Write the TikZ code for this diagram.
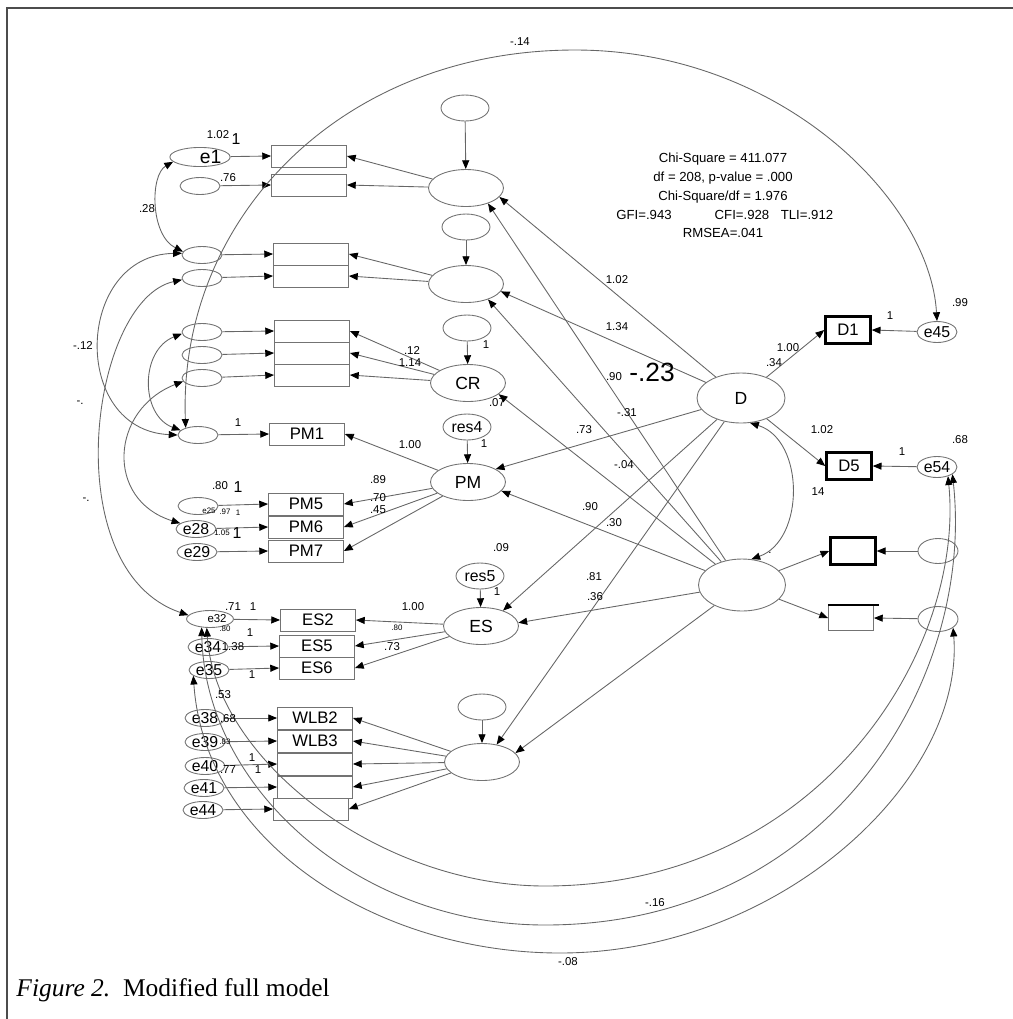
\documentclass[tikz,border=0pt]{standalone}
\usepackage{fontspec}
\setmainfont{Liberation Sans}
\newfontfamily\capfont{Liberation Serif}
\usetikzlibrary{shapes.geometric,arrows.meta}

\begin{document}
\begin{tikzpicture}[x=0.02cm,y=-0.02cm,line width=0.5pt,
    err/.style={ellipse,draw=black!55,minimum width=0.8cm,minimum height=0.34cm,inner sep=0pt,font=\fontsize{9}{9}\selectfont},
    latent/.style={ellipse,draw=black!55,minimum width=1.5cm,minimum height=0.74cm,inner sep=0pt,font=\fontsize{10}{10}\selectfont},
    resid/.style={ellipse,draw=black!55,minimum width=0.96cm,minimum height=0.52cm,inner sep=0pt,font=\fontsize{9}{9}\selectfont},
    obs/.style={rectangle,draw=black!55,minimum width=1.5cm,minimum height=0.44cm,inner sep=0pt,font=\fontsize{9.5}{9.5}\selectfont},
    dbox/.style={rectangle,draw=black,line width=1.4pt,minimum width=0.9cm,minimum height=0.54cm,inner sep=0pt,font=\fontsize{9.5}{9.5}\selectfont},
    arr/.style={draw=black!60,-{Triangle[length=5pt,width=4pt,color=black]}},
    cov/.style={draw=black!60,{Triangle[length=5pt,width=4pt,color=black]}-{Triangle[length=5pt,width=4pt,color=black]}},
    numlbl/.style={inner sep=0pt,font=\fontsize{6.5}{7}\selectfont},
    numbig/.style={inner sep=0pt,font=\fontsize{9}{9}\selectfont},
    numtiny/.style={inner sep=0pt,font=\fontsize{4.5}{5}\selectfont},
    fitlbl/.style={inner sep=0pt,font=\fontsize{7.5}{8}\selectfont}]
    \useasboundingbox (0,0) rectangle (1013,1019);
    \draw[black!70,line width=0.8pt] (1013,8) -- (7,8) -- (7,1019);

    % first factor
    \node[resid] (r1) at (465,108) {};
    \node[latent] (F1) at (466,188) {};
    \node[obs] (x11) at (309,156) {};
    \node[obs] (x12) at (309,185) {};
    \node[err,font=\fontsize{11}{11}\selectfont] (e1) at (200,157) {\hspace{12pt}e1};
    \node[err] (e2) at (200,186) {};

    % second factor
    \node[resid] (r2) at (466,227) {};
    \node[latent] (F2) at (466,284) {};
    \node[obs] (x21) at (311,254) {};
    \node[obs] (x22) at (311,276) {};
    \node[err] (e3) at (202,255) {};
    \node[err] (e4) at (202,278) {};

    % CR
    \node[resid] (r3) at (467,328) {};
    \node[latent] (CR) at (468,383) {CR};
    \node[obs] (x31) at (312,331) {};
    \node[obs] (x32) at (312,353) {};
    \node[obs] (x33) at (312,375) {};
    \node[err] (e5) at (202,332) {};
    \node[err] (e6) at (202,355) {};
    \node[err] (e7) at (202,378) {};

    % PM
    \node[resid] (r4) at (467,427) {res4};
    \node[latent] (PM) at (468,482) {PM};
    \node[obs] (PM1) at (307,434) {PM1};
    \node[obs] (PM5) at (306,504) {PM5};
    \node[obs] (PM6) at (306,527) {PM6};
    \node[obs] (PM7) at (306,551) {PM7};
    \node[err] (e8) at (198,435) {};
    \node[err] (e25) at (198,506) {};
    \node[err] (e28) at (196,529) {e28};
    \node[err] (e29) at (197,552) {e29};

    % ES
    \node[resid] (r5) at (480,576) {res5};
    \node[latent] (ES) at (481,626) {ES};
    \node[obs] (ES2) at (318,620) {ES2};
    \node[obs] (ES5) at (317,646) {ES5};
    \node[obs] (ES6) at (317,668) {ES6};
    \node[err,font=\fontsize{6.5}{7}\selectfont] (e32) at (210,619) {\hspace{8pt}e32};
    \node[err] (e34) at (208,647) {e34};
    \node[err] (e35) at (209,670) {e35};

    % WLB
    \node[resid] (r6) at (482,707) {};
    \node[latent] (WLB) at (482,762) {};
    \node[obs] (WLB2) at (315,718) {WLB2};
    \node[obs] (WLB3) at (315,741) {WLB3};
    \node[obs] (w3) at (315,764) {};
    \node[obs] (w4) at (315,787) {};
    \node[obs] (w5) at (311,809) {};
    \node[err] (e38) at (205,718) {e38};
    \node[err] (e39) at (205,742) {e39};
    \node[err] (e40) at (205,766) {e40};
    \node[err] (e41) at (204,788) {e41};
    \node[err] (e44) at (203,810) {e44};

    % right side
    \node[ellipse,draw=black!55,minimum width=1.76cm,minimum height=1cm,font=\fontsize{10}{10}\selectfont] (D) at (741,398) {D};
    \node[ellipse,draw=black!55,minimum width=1.74cm,minimum height=1.04cm] (F7) at (742,585) {};
    \node[dbox] (D1) at (848,330) {D1};
    \node[dbox] (D5) at (849,466) {D5};
    \node[dbox] (y7a) at (853,551) {};
    \node[obs,minimum width=0.9cm,minimum height=0.5cm] (y7b) at (851,618) {};
    \draw[line width=1.4pt] (y7b.north west) -- ([xshift=3pt]y7b.north east);
    \node[err,minimum height=0.42cm] (e45) at (937,332) {e45};
    \node[err,minimum height=0.42cm] (e54) at (937,467) {e54};
    \node[err,minimum height=0.5cm] (e7a) at (938,551) {};
    \node[err,minimum height=0.5cm] (e7b) at (938,619) {};

    % fit indices
    \node[fitlbl] (fit1) at (723,159) {Chi-Square = 411.077};
    \node[fitlbl] (fit2) at (723,178) {df = 208, p-value = .000};
    \node[fitlbl] (fit3) at (723,197) {Chi-Square/df = 1.976};
    \node[fitlbl] (fit4) at (644,215) {GFI=.943};
    \node[fitlbl] (fit5) at (742,215) {CFI=.928};
    \node[fitlbl] (fit6) at (807,215) {TLI=.912};
    \node[fitlbl] (fit7) at (723,233) {RMSEA=.041};

    % residuals to factors
    \draw[arr] (r1) -- (F1);
    \draw[arr] (r2) -- (F2);
    \draw[arr] (r3) -- (CR);
    \draw[arr] (r4) -- (PM);
    \draw[arr] (r5) -- (ES);
    \draw[arr] (r6) -- (WLB);

    % loadings
    \draw[arr] (F1) -- (x11.east);
    \draw[arr] (F1) -- (x12.east);
    \draw[arr] (F2) -- (x21.east);
    \draw[arr] (F2) -- (x22.east);
    \draw[arr] (CR) -- (x31.east);
    \draw[arr] (CR) -- (x32.east);
    \draw[arr] (CR) -- (x33.east);
    \draw[arr] (PM) -- (PM1.east);
    \draw[arr] (PM) -- (PM5.east);
    \draw[arr] (PM) -- (PM6.east);
    \draw[arr] (PM) -- (PM7.east);
    \draw[arr] (ES) -- (ES2.east);
    \draw[arr] (ES) -- (ES5.east);
    \draw[arr] (ES) -- (ES6.east);
    \draw[arr] (WLB) -- (WLB2.east);
    \draw[arr] (WLB) -- (WLB3.east);
    \draw[arr] (WLB) -- (w3.east);
    \draw[arr] (WLB) -- (w4.east);
    \draw[arr] (WLB) -- (w5.east);
    \draw[arr] (D) -- (D1.west);
    \draw[arr] (D) -- (D5.west);
    \draw[arr] (F7) -- (y7a.west);
    \draw[arr] (F7) -- (y7b.west);

    % errors to indicators
    \draw[arr] (e1) -- (x11.west);
    \draw[arr] (e2) -- (x12.west);
    \draw[arr] (e3) -- (x21.west);
    \draw[arr] (e4) -- (x22.west);
    \draw[arr] (e5) -- (x31.west);
    \draw[arr] (e6) -- (x32.west);
    \draw[arr] (e7) -- (x33.west);
    \draw[arr] (e8) -- (PM1.west);
    \draw[arr] (e25) -- (PM5.west);
    \draw[arr] (e28) -- (PM6.west);
    \draw[arr] (e29) -- (PM7.west);
    \draw[arr] (e32) -- (ES2.west);
    \draw[arr] (e34) -- (ES5.west);
    \draw[arr] (e35) -- (ES6.west);
    \draw[arr] (e38) -- (WLB2.west);
    \draw[arr] (e39) -- (WLB3.west);
    \draw[arr] (e40) -- (w3.west);
    \draw[arr] (e41) -- (w4.west);
    \draw[arr] (e44) -- (w5.west);
    \draw[arr] (e45) -- (D1.east);
    \draw[arr] (e54) -- (D5.east);
    \draw[arr] (e7a) -- (y7a.east);
    \draw[arr] (e7b) -- (y7b.east);

    % structural paths
    \draw[arr] (D) -- (F1.-15);
    \draw[arr] (D) -- (F2.-12);
    \draw[arr] (D) -- (PM.25);
    \draw[arr] (D) -- (ES.35);
    \draw[arr] (D) -- (WLB.50);
    \draw[arr] (F7) -- (F1.-35);
    \draw[arr] (F7) -- (F2.-35);
    \draw[arr] (F7) -- (CR.-20);
    \draw[arr] (F7) -- (PM.-15);
    \draw[arr] (F7) -- (ES.5);
    \draw[arr] (F7) -- (WLB.15);

    % covariances
    \draw[cov] (D.-70) .. controls (805,440) and (805,540) .. (F7.70);
    \draw[cov] (e1.190) .. controls (150,175) and (150,235) .. (e3.170);
    \draw[cov] (e3.175) .. controls (75,255) and (70,430) .. (e8.180);
    \draw[cov] (e4.185) .. controls (90,300) and (55,570) .. (e32.170);
    \draw[cov] (e5.185) .. controls (140,350) and (140,415) .. (e8.165);
    \draw[cov] (e7.190) .. controls (110,410) and (105,500) .. (e28.160);
    \draw[cov] (e8.150) .. controls (178,220) and (340,50) .. (575,50) .. controls (780,50) and (930,200) .. (e45.north);
    \draw[cov] (e32.250) .. controls (215,760) and (380,886) .. (545,886) .. controls (820,886) and (965,650) .. (e54.-40);
    \draw[cov] (e32.225) .. controls (205,790) and (360,925) .. (545,925) .. controls (830,925) and (975,680) .. (e54.-25);
    \draw[cov] (e35.200) .. controls (205,845) and (380,953) .. (560,953) .. controls (780,953) and (965,780) .. (e7b.-30);

    % estimates
    \node[numlbl] (n1) at (218,135) {1.02};
    \node[numbig] (n2) at (236,139) {1};
    \node[numlbl] (n3) at (228,178) {.76};
    \node[numlbl] (n4) at (147,209) {.28};
    \node[numlbl] (n5) at (83,346) {-.12};
    \node[numlbl] (n6) at (80,403) {-.};
    \node[numlbl] (n7) at (86,500) {-.};
    \node[numlbl] (n8) at (412,351) {.12};
    \node[numlbl] (n9) at (410,363) {1.14};
    \node[numlbl] (n10) at (486,345) {1};
    \node[numlbl] (n11) at (497,403) {.07};
    \node[numlbl] (n12) at (238,423) {1};
    \node[numlbl] (n13) at (410,445) {1.00};
    \node[numlbl] (n14) at (484,444) {1};
    \node[numlbl] (n15) at (378,480) {.89};
    \node[numlbl] (n16) at (378,498) {.70};
    \node[numlbl] (n17) at (378,510) {.45};
    \node[numlbl] (n18) at (220,486) {.80};
    \node[numbig] (n19) at (238,487) {1};
    \node[numtiny] (n20) at (209,511) {e25};
    \node[numtiny] (n21) at (225,512) {.97};
    \node[numtiny] (n22) at (238,513) {1};
    \node[numtiny] (n23) at (222,533) {1.05};
    \node[numbig] (n24) at (237,533) {1};
    \node[numlbl] (n25) at (501,548) {.09};
    \node[numlbl] (n26) at (497,592) {1};
    \node[numlbl] (n27) at (413,607) {1.00};
    \node[numlbl] (n28) at (233,607) {.71};
    \node[numlbl] (n29) at (253,607) {1};
    \node[numtiny] (n30) at (397,628) {.80};
    \node[numlbl] (n31) at (392,647) {.73};
    \node[numtiny] (n32) at (225,629) {.80};
    \node[numlbl] (n33) at (250,633) {1};
    \node[numlbl] (n34) at (233,647) {1.38};
    \node[numlbl] (n35) at (252,675) {1};
    \node[numlbl] (n36) at (223,695) {.53};
    \node[numlbl] (n37) at (228,719) {.68};
    \node[numtiny] (n38) at (225,742) {.83};
    \node[numlbl] (n39) at (252,758) {1};
    \node[numlbl] (n40) at (228,770) {.77};
    \node[numlbl] (n41) at (258,770) {1};
    \node[numlbl] (n42) at (617,280) {1.02};
    \node[numlbl] (n43) at (617,327) {1.34};
    \node[numlbl] (n44) at (614,377) {.90};
    \node[inner sep=0pt,font=\fontsize{15}{15}\selectfont] (n45) at (652,372) {-.23};
    \node[numlbl] (n46) at (627,413) {-.31};
    \node[numlbl] (n47) at (584,430) {.73};
    \node[numlbl] (n48) at (624,465) {-.04};
    \node[numlbl] (n49) at (590,507) {.90};
    \node[numlbl] (n50) at (614,523) {.30};
    \node[numlbl] (n51) at (594,577) {.81};
    \node[numlbl] (n52) at (595,597) {.36};
    \node[numlbl] (n53) at (788,348) {1.00};
    \node[numlbl] (n54) at (774,363) {.34};
    \node[numlbl] (n55) at (890,316) {1};
    \node[numlbl] (n56) at (960,303) {.99};
    \node[numlbl] (n57) at (822,430) {1.02};
    \node[numlbl] (n58) at (818,492) {14};
    \node[numlbl] (n59) at (902,452) {1};
    \node[numlbl] (n60) at (960,440) {.68};
    \node[numlbl] (n61) at (770,553) {.};
    \node[numlbl] (n62) at (520,42) {-.14};
    \node[numlbl] (n63) at (655,903) {-.16};
    \node[numlbl] (n64) at (568,962) {-.08};

    \node[anchor=west,inner sep=0pt,font=\capfont\fontsize{14.5}{14.5}\selectfont] (cap) at (16,990) {\textit{Figure 2.}\ \ Modified full model};
\end{tikzpicture}
\end{document}
